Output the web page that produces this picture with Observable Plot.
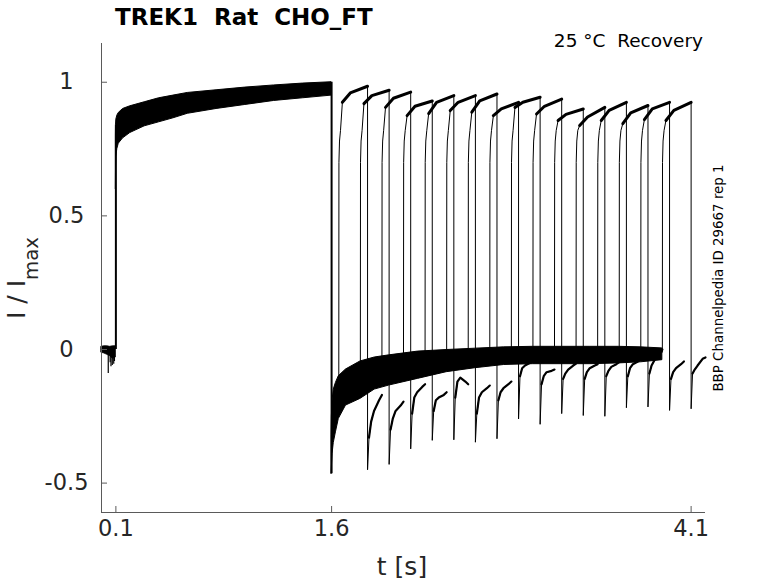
<!DOCTYPE html>
<html><head><meta charset="utf-8">
<script src="https://cdn.jsdelivr.net/npm/d3@7"></script>
<script src="https://cdn.jsdelivr.net/npm/@observablehq/plot@0.6"></script>
<style>html,body{margin:0;padding:0;background:#fff;} #chart{width:778px;height:583px;}</style>
</head><body><div id="chart"></div>
<script>
// ---- axes ----
const xTicks = [0.1, 1.6, 4.1];
const xTickLabels = ["0.1", "1.6", "4.1"];
const yTicks = [1, 0.5, 0, -0.5];
const yTickLabels = ["1", "0.5", "0", "-0.5"];
const xDomain = [0, 4.2];
const yDomain = [-0.61, 1.145];

// ---- holding baseline before the first pulse (envelope of all sweeps) ----
const baseT  = [0, 0.02, 0.04, 0.06, 0.08, 0.1];
const baseHi = [0.010, 0.012, 0.012, 0.010, 0.012, 0.012];
const baseLo = [-0.012, -0.015, -0.020, -0.025, -0.035, -0.030];
const baseSpikeT = [0.047, 0.060, 0.066, 0.075, 0.085, 0.090];
const baseSpikeV = [-0.090, -0.050, -0.065, -0.060, -0.055, -0.045];

// ---- first pulse, envelope of all sweeps ----
const p1T  = [0.1, 0.101, 0.103, 0.11, 0.12, 0.15, 0.2, 0.3, 0.4, 0.5, 0.6, 0.8, 1.0, 1.2, 1.4, 1.6];
const p1Hi = [0.80, 0.84, 0.86, 0.875, 0.885, 0.90, 0.91, 0.925, 0.94, 0.95, 0.96, 0.97, 0.98, 0.988, 0.995, 1.0];
const p1Lo = [0.60, 0.68, 0.72, 0.75, 0.77, 0.79, 0.81, 0.835, 0.85, 0.865, 0.882, 0.90, 0.915, 0.93, 0.94, 0.95];

// ---- tail after first pulse, envelope of all sweeps ----
const tailT  = [1.6, 1.602, 1.607, 1.615, 1.63, 1.65, 1.7, 1.8, 1.9, 2.0, 2.2, 2.4, 2.6, 2.8, 3.0, 3.2, 3.4, 3.6, 3.75, 3.9];
const tailHi = [-0.32, -0.25, -0.19, -0.15, -0.125, -0.10, -0.075, -0.045, -0.03, -0.022, -0.008, -0.002, 0.003, 0.008, 0.01, 0.01, 0.01, 0.01, 0.008, 0.004];
const tailLo = [-0.465, -0.44, -0.39, -0.35, -0.31, -0.26, -0.21, -0.185, -0.15, -0.135, -0.11, -0.085, -0.07, -0.058, -0.055, -0.055, -0.055, -0.052, -0.048, -0.04];

// ---- vertical steps shared by all sweeps ----
const edgeT    = [0.1, 1.6];
const edgeFrom = [0.0, 1.0];
const edgeTo   = [0.84, -0.465];

// ---- second (test) pulse, one entry per sweep ----
const p2Start  = [1.65, 1.80, 1.95, 2.10, 2.25, 2.40, 2.55, 2.70, 2.85, 3.00, 3.15, 3.30, 3.45, 3.60, 3.75, 3.90];
const p2End    = [1.85, 2.00, 2.15, 2.30, 2.45, 2.60, 2.75, 2.90, 3.05, 3.20, 3.35, 3.50, 3.65, 3.80, 3.95, 4.10];
const preLevel = [-0.13, -0.06, -0.04, -0.03, -0.02, -0.02, -0.02, -0.015, -0.015, -0.015, -0.02, -0.02, -0.015, -0.015, -0.015, -0.01];
const riseDt     = [0.001, 0.005, 0.012];
const riseLevels = [0.70, 0.78, 0.82];
const plateauDt  = [0.025, 0.08];
const topStart = [0.925, 0.92, 0.906, 0.875, 0.883, 0.894, 0.888, 0.875, 0.906, 0.881, 0.857, 0.838, 0.857, 0.845, 0.86, 0.857];
const topMid   = [0.96, 0.95, 0.94, 0.91, 0.925, 0.925, 0.93, 0.90, 0.925, 0.91, 0.88, 0.87, 0.895, 0.885, 0.90, 0.895];
const topEnd   = [0.985, 0.97, 0.963, 0.93, 0.95, 0.95, 0.956, 0.925, 0.944, 0.937, 0.90, 0.906, 0.925, 0.913, 0.925, 0.925];
// tail after second pulse: offsets from pulse end and values per sweep
const tailDt = [0, 0.01, 0.025, 0.045, 0.08, 0.1];
const tail2 = [
  [-0.45, -0.33, -0.27, -0.23, -0.19, -0.17],
  [-0.43, -0.30, -0.26, -0.23, -0.21, -0.195],
  [-0.372, -0.24, -0.18, -0.16, -0.14, -0.13],
  [-0.34, -0.23, -0.19, -0.18, -0.17, -0.16],
  [-0.338, -0.18, -0.12, -0.105, -0.12, -0.13],
  [-0.347, -0.24, -0.18, -0.16, -0.145, -0.135],
  [-0.334, -0.19, -0.16, -0.145, -0.13, -0.12],
  [-0.26, -0.10, -0.07, -0.06, -0.05, -0.045],
  [-0.28, -0.13, -0.10, -0.085, -0.08, -0.075],
  [-0.24, -0.11, -0.09, -0.075, -0.06, -0.053],
  [-0.247, -0.11, -0.085, -0.07, -0.06, -0.055],
  [-0.25, -0.10, -0.08, -0.065, -0.055, -0.047],
  [-0.218, -0.10, -0.07, -0.055, -0.045, -0.035],
  [-0.215, -0.09, -0.06, -0.04, -0.015, 0.0],
  [-0.228, -0.11, -0.085, -0.07, -0.055, -0.045],
  [-0.222, -0.09, -0.075, -0.06, -0.035, -0.03]
];

// ---- build tables ----
const baseRows = baseT.map((t, i) => ({t, hi: baseHi[i], lo: baseLo[i]}));
const spikeRows = baseSpikeT.map((t, i) => ({t, v: baseSpikeV[i]}));
const p1Rows = p1T.map((t, i) => ({t, hi: p1Hi[i], lo: p1Lo[i]}));
const tailRows = tailT.map((t, i) => ({t, hi: tailHi[i], lo: tailLo[i]}));
const edgeRows = edgeT.map((t, i) => ({t, from: edgeFrom[i], to: edgeTo[i]}));

const sweepRows = [], plateauRows = [], tailSegRows = [];
p2Start.forEach((s, i) => {
  sweepRows.push({sweep: i, t: s, v: preLevel[i]});
  riseDt.forEach((dt, j) => sweepRows.push({sweep: i, t: s + dt, v: riseLevels[j]}));
  const plat = [
    {sweep: i, t: s + plateauDt[0], v: topStart[i]},
    {sweep: i, t: s + plateauDt[1], v: topMid[i]},
    {sweep: i, t: p2End[i], v: topEnd[i]}
  ];
  plat.forEach(r => { sweepRows.push(r); plateauRows.push(r); });
  tailDt.forEach((dt, j) => {
    const r = {sweep: i, t: p2End[i] + dt, v: tail2[i][j]};
    sweepRows.push(r);
    if (j > 0) tailSegRows.push(r);
  });
});

const W = 778, H = 583;
const M = {top: 43, right: 73, bottom: 71, left: 101};
const innerW = W - M.left - M.right, innerH = H - M.top - M.bottom;
const axisColor = "#5a5a5a", textColor = "#262626";

const plot = Plot.plot({
  width: W, height: H,
  marginTop: M.top, marginRight: M.right, marginBottom: M.bottom, marginLeft: M.left,
  style: {fontFamily: "DejaVu Sans", background: "white"},
  x: {domain: xDomain, axis: null},
  y: {domain: yDomain, axis: null},
  marks: [
    Plot.areaY(baseRows, {x: "t", y1: "lo", y2: "hi", fill: "black", stroke: "black", strokeWidth: 0.8}),
    Plot.ruleX(spikeRows, {x: "t", y1: 0, y2: "v", stroke: "black", strokeWidth: 1.2}),
    Plot.areaY(p1Rows, {x: "t", y1: "lo", y2: "hi", fill: "black", stroke: "black", strokeWidth: 1}),
    Plot.areaY(tailRows, {x: "t", y1: "lo", y2: "hi", fill: "black", stroke: "black", strokeWidth: 1}),
    Plot.ruleX(edgeRows, {x: "t", y1: "from", y2: "to", stroke: "black", strokeWidth: 2}),
    Plot.line(sweepRows, {x: "t", y: "v", z: "sweep", stroke: "black", strokeWidth: 1}),
    Plot.line(plateauRows, {x: "t", y: "v", z: "sweep", stroke: "black", strokeWidth: 3}),
    Plot.line(tailSegRows, {x: "t", y: "v", z: "sweep", stroke: "black", strokeWidth: 2.2}),
    Plot.ruleX([xDomain[0]], {stroke: axisColor, strokeWidth: 1}),
    Plot.ruleY([yDomain[0]], {stroke: axisColor, strokeWidth: 1}),
    Plot.tickX(xTicks, {x: d => d, insetTop: innerH - 6, stroke: axisColor}),
    Plot.tickY(yTicks, {y: d => d, insetRight: innerW - 6, stroke: axisColor}),
    Plot.text(xTicks, {x: d => d, frameAnchor: "bottom", dy: 23, text: (d, i) => xTickLabels[i], fontSize: 22.5, fill: textColor, textAnchor: "middle"}),
    Plot.text(yTicks, {y: d => d, frameAnchor: "left", dx: -35, text: (d, i) => yTickLabels[i], fontSize: 22.5, fill: textColor, textAnchor: "middle"})
  ]
});

const svg = d3.select(plot);
svg.append("text").attr("x", 115).attr("y", 25).attr("text-anchor", "start")
  .style("white-space", "pre").attr("font-family", "DejaVu Sans").attr("font-weight", "bold")
  .attr("font-size", 23).attr("fill", "#000").text("TREK1  Rat  CHO_FT");
svg.append("text").attr("x", 703).attr("y", 47).attr("text-anchor", "end")
  .style("white-space", "pre").attr("font-family", "DejaVu Sans")
  .attr("font-size", 18.5).attr("fill", "#000").text("25 °C  Recovery");
svg.append("text").attr("transform", "translate(723,278) rotate(-90)").attr("text-anchor", "middle")
  .attr("font-family", "DejaVu Sans").attr("font-size", 13.4).attr("fill", "#000")
  .text("BBP Channelpedia ID 29667 rep 1");
svg.append("text").attr("x", 402).attr("y", 575).attr("text-anchor", "middle")
  .attr("font-family", "DejaVu Sans").attr("font-size", 25).attr("fill", textColor).text("t [s]");
const yl = svg.append("text").attr("transform", "translate(25,278) rotate(-90)").attr("text-anchor", "middle")
  .style("white-space", "pre").attr("font-family", "DejaVu Sans").attr("font-size", 25).attr("fill", textColor);
yl.append("tspan").text("I / I");
yl.append("tspan").attr("font-size", 19.7).attr("dy", 13).text("max");

document.getElementById("chart").appendChild(plot);
</script>
</body></html>
